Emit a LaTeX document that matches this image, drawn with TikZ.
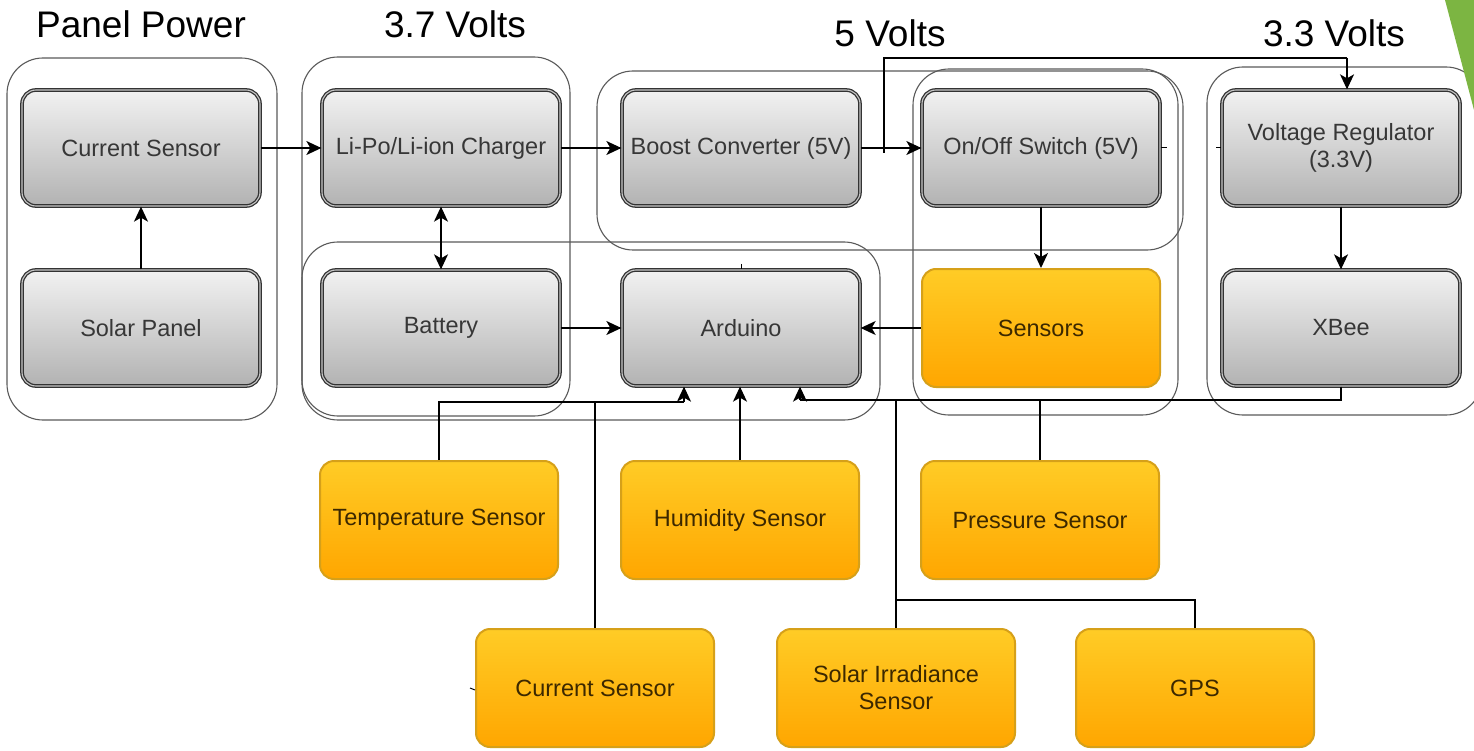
\documentclass[tikz,border=0pt]{standalone}
\usepackage{fontspec}
\setmainfont{Liberation Sans}
\usetikzlibrary{arrows.meta}
\definecolor{grpline}{RGB}{90,90,90}
\definecolor{gtop}{RGB}{242,242,242}
\definecolor{gbot}{RGB}{178,178,178}
\definecolor{gtext}{RGB}{55,55,55}
\definecolor{otop}{RGB}{255,204,38}
\definecolor{obot}{RGB}{255,166,0}
\definecolor{ogold}{RGB}{214,160,25}
\definecolor{otext}{RGB}{60,40,0}
\definecolor{slidegreen}{RGB}{124,181,66}
\newcommand{\boxfont}{\fontsize{23.5}{27}\selectfont}
\newcommand{\titlefont}{\fontsize{37}{40}\selectfont}
\tikzset{
  gbox/.style={draw=black!80, line width=1.3pt, double=gray!45, double distance=1.1pt,
    rounded corners=14pt, top color=gtop, bottom color=gbot,
    minimum width=238pt, minimum height=116pt, inner sep=0pt,
    text=gtext, font=\boxfont, align=center},
  obox/.style={draw=ogold, line width=2pt, rounded corners=14pt,
    top color=otop, bottom color=obot,
    minimum width=238pt, minimum height=118pt, inner sep=0pt,
    text=otext, font=\boxfont, align=center},
  grp/.style={draw=grpline, line width=1.1pt, rounded corners=36pt},
  conn/.style={draw=black, line width=1.4pt},
  arr/.style={conn, -{Stealth[length=15pt,width=14pt,inset=4pt]}},
  darr/.style={conn, {Stealth[length=15pt,width=14pt,inset=4pt]}-{Stealth[length=15pt,width=14pt,inset=4pt]}},
  ttl/.style={font=\titlefont, text=black, anchor=base, inner sep=0pt},
  stub/.style={draw=black, line width=1pt}
}
\begin{document}
\begin{tikzpicture}[x=1pt,y=-1pt]
\useasboundingbox (0,0) rectangle (1474,751);
\clip (0,0) rectangle (1474,751);
\fill[white] (0,0) rectangle (1474,751);

% titles
\node[ttl] (tpp) at (141,38) {Panel Power};
\node[ttl] (t37) at (455,38) {3.7 Volts};
\node[ttl] (t5)  at (890,47) {5 Volts};
\node[ttl] (t33) at (1334,47) {3.3 Volts};

% group outlines
\draw[grp] (7,58) rectangle (277,420);
\draw[grp] (302,57) rectangle (570,416);
\draw[grp] (302,242) rectangle (880,420);
\draw[grp] (597,71) rectangle (1183,250);
\draw[grp] (913,69) rectangle (1178,415);
\draw[grp] (1207,67) rectangle (1482,415);

% grey boxes
\node[gbox] (cs1) at (141,148) {Current Sensor};
\node[gbox] (sp)  at (141,328) {Solar Panel};
\node[gbox] (chg) at (441,148) {Li-Po/Li-ion Charger};
\node[gbox] (bat) at (441,328) {Battery};
\node[gbox] (bst) at (741,148) {Boost Converter (5V)};
\node[gbox] (ard) at (741,328) {Arduino};
\node[gbox] (sw)  at (1041,148) {On/Off Switch (5V)};
\node[gbox] (vr)  at (1341,148) {Voltage Regulator\\(3.3V)};
\node[gbox] (xb)  at (1341,328) {XBee};

% orange boxes
\node[obox] (sens) at (1041,328) {Sensors};
\node[obox] (tmp)  at (439,520) {Temperature Sensor};
\node[obox] (hum)  at (740,520) {Humidity Sensor};
\node[obox] (pres) at (1040,520) {Pressure Sensor};
\node[obox] (cs2)  at (595,688) {Current Sensor};
\node[obox] (sir)  at (896,688) {Solar Irradiance\\Sensor};
\node[obox] (gps)  at (1195,688) {GPS};

% junction coordinates
\coordinate (j1) at (684,402);
\coordinate (j3) at (800,400);
\coordinate (j4) at (896,600);
\coordinate (j5) at (884,153);
\coordinate (j6) at (884,58);
\coordinate (j7) at (1347,58);

% connectors
\draw[arr] (sp.north) -- (cs1.south);
\draw[arr] (cs1.east) -- (chg.west);
\draw[darr] (chg.south) -- (bat.north);
\draw[arr] (chg.east) -- (bst.west);
\draw[arr] (bst.east) -- (sw.west);
\draw[conn] (j5) -- (j6) -- (j7);
\draw[arr] (j7) -- (j7 |- vr.north);
\draw[arr] (sw.south) -- (sens.north);
\draw[arr] (vr.south) -- (xb.north);
\draw[arr] (bat.east) -- (ard.west);
\draw[arr] (sens.west) -- (ard.east);
\draw[conn] (tmp.north) |- (j1);
\draw[arr] (j1) -- (j1 |- ard.south);
\draw[arr] (hum.north) -- (hum.north |- ard.south);
\draw[conn] (xb.south) |- (j3);
\draw[arr] (j3) -- (j3 |- ard.south);
\draw[conn] (pres.north) -- (pres.north |- j3);
\draw[conn] (cs2.north) -- (cs2.north |- j1);
\draw[conn] (sir.north) -- (sir.north |- j3);
\draw[conn] (gps.north) |- (j4);

% small stray marks
\coordinate (m1) at (741,264);
\draw[stub] (m1) -- (m1 |- ard.north);
\coordinate (m2) at (1167,148);
\draw[stub] (sw.east) -- (m2);
\coordinate (m3) at (1216,148);
\draw[stub] (m3) -- (vr.west);
\coordinate (m4) at (470,688);
\coordinate (m5) at (475,690);
\draw[stub] (m4) -- (m5);

% slide decoration
\fill[slidegreen] (1445,0) -- (1474,0) -- (1474,110) -- cycle;
\end{tikzpicture}
\end{document}
